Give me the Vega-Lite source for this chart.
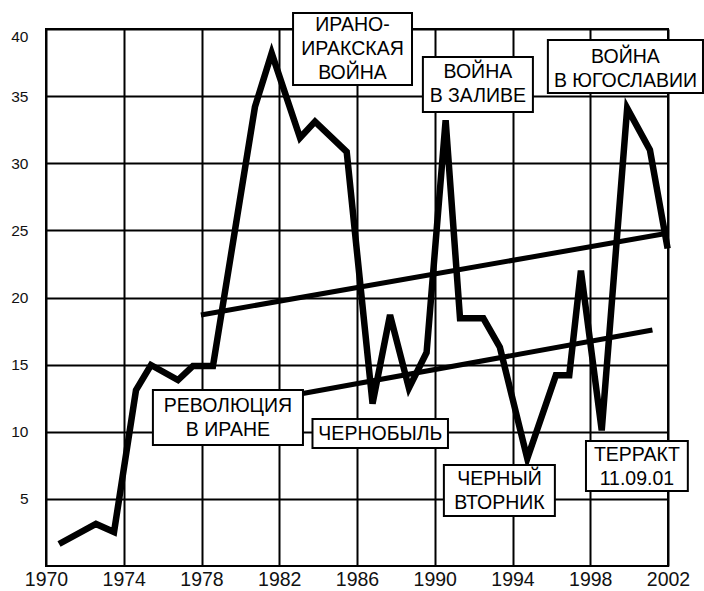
{
  "$schema": "https://vega.github.io/schema/vega-lite/v6.json",
  "width": 622,
  "height": 537,
  "autosize": "none",
  "padding": {"left": 46, "top": 29, "right": 36, "bottom": 25},
  "background": "white",
  "config": {
    "view": {"stroke": "black", "strokeWidth": 2},
    "font": "Liberation Sans",
    "axis": {
      "grid": true, "gridColor": "black", "gridWidth": 2, "gridOpacity": 1,
      "domain": false, "ticks": false, "labelColor": "#111", "title": null,
      "labelFont": "Liberation Sans"
    },
    "axisX": {"labelFontSize": 19.5, "labelPadding": 4, "labelFlush": false, "labelOverlap": false},
    "axisY": {"labelFontSize": 15.5, "labelPadding": 18, "labelFlush": true, "labelFlushOffset": 0}
  },
  "datasets": {
    "main": [
      {"year": 1970.67, "value": 1.64},
      {"year": 1972.57, "value": 3.13},
      {"year": 1973.5, "value": 2.53},
      {"year": 1974.63, "value": 13.1},
      {"year": 1975.4, "value": 14.97},
      {"year": 1976.79, "value": 13.85},
      {"year": 1977.56, "value": 14.9},
      {"year": 1978.59, "value": 14.9},
      {"year": 1980.75, "value": 34.2},
      {"year": 1981.61, "value": 38.2},
      {"year": 1983.07, "value": 31.9},
      {"year": 1983.84, "value": 33.1},
      {"year": 1985.47, "value": 30.85},
      {"year": 1986.8, "value": 12.1},
      {"year": 1987.7, "value": 18.7},
      {"year": 1988.67, "value": 13.25},
      {"year": 1989.58, "value": 15.9},
      {"year": 1990.56, "value": 33.2},
      {"year": 1991.3, "value": 18.45},
      {"year": 1992.5, "value": 18.45},
      {"year": 1993.35, "value": 16.3},
      {"year": 1994.76, "value": 8.0},
      {"year": 1996.23, "value": 14.2},
      {"year": 1996.92, "value": 14.2},
      {"year": 1997.52, "value": 22.0},
      {"year": 1998.59, "value": 10.1},
      {"year": 1999.9, "value": 34.1},
      {"year": 2001.07, "value": 31.0},
      {"year": 2001.98, "value": 23.65}
    ],
    "trend": [
      {"line": "upper", "year": 1977.97, "value": 18.7},
      {"line": "upper", "year": 2001.74, "value": 24.73},
      {"line": "lower", "year": 1982.5, "value": 12.66},
      {"line": "lower", "year": 2001.2, "value": 17.58}
    ],
    "notes": [
      {"label": "ИРАНО-\nИРАКСКАЯ\nВОЙНА", "x1": 1982.71, "x2": 1988.83, "y1": 41.19, "y2": 35.83, "xc": 1985.77, "yc": 40.3},
      {"label": "ВОЙНА\nВ ЗАЛИВЕ", "x1": 1989.39, "x2": 1995.05, "y1": 37.91, "y2": 33.82, "xc": 1992.22, "yc": 36.76},
      {"label": "ВОЙНА\nВ ЮГОСЛАВИИ", "x1": 1995.82, "x2": 2003.8, "y1": 39.18, "y2": 35.23, "xc": 1999.81, "yc": 37.95},
      {"label": "РЕВОЛЮЦИЯ\nВ ИРАНЕ", "x1": 1975.5, "x2": 1983.22, "y1": 13.11, "y2": 9.01, "xc": 1979.36, "yc": 11.9},
      {"label": "ЧЕРНОБЫЛЬ", "x1": 1983.71, "x2": 1990.68, "y1": 10.95, "y2": 8.79, "xc": 1987.2, "yc": 9.8},
      {"label": "ЧЕРНЫЙ\nВТОРНИК", "x1": 1990.47, "x2": 1996.18, "y1": 7.52, "y2": 3.72, "xc": 1993.33, "yc": 6.45},
      {"label": "ТЕРРАКТ\n11.09.01", "x1": 1997.78, "x2": 2003.02, "y1": 9.31, "y2": 5.59, "xc": 2000.4, "yc": 8.3}
    ]
  },
  "layer": [
    {
      "data": {"name": "trend"},
      "mark": {"type": "line", "color": "black", "strokeWidth": 5, "strokeCap": "butt"},
      "encoding": {
        "x": {
          "field": "year", "type": "quantitative",
          "scale": {"domain": [1970, 2002], "nice": false, "zero": false},
          "axis": {
            "values": [1970, 1974, 1978, 1982, 1986, 1990, 1994, 1998, 2002],
            "format": "d"
          }
        },
        "y": {
          "field": "value", "type": "quantitative",
          "scale": {"domain": [0, 40], "nice": false},
          "axis": {"values": [5, 10, 15, 20, 25, 30, 35, 40]}
        },
        "detail": {"field": "line"}
      }
    },
    {
      "data": {"name": "main"},
      "mark": {"type": "line", "color": "black", "strokeWidth": 6.5, "strokeCap": "butt", "strokeJoin": "miter", "strokeMiterLimit": 4},
      "encoding": {
        "x": {"field": "year", "type": "quantitative"},
        "y": {"field": "value", "type": "quantitative"}
      }
    },
    {
      "data": {"name": "notes"},
      "mark": {"type": "rect", "fill": "white", "stroke": "black", "strokeWidth": 2},
      "encoding": {
        "x": {"field": "x1", "type": "quantitative"},
        "x2": {"field": "x2"},
        "y": {"field": "y1", "type": "quantitative"},
        "y2": {"field": "y2"}
      }
    },
    {
      "data": {"name": "notes"},
      "mark": {"type": "text", "fontSize": 19.5, "lineBreak": "\n", "lineHeight": 24, "align": "center", "baseline": "middle", "color": "black"},
      "encoding": {
        "x": {"field": "xc", "type": "quantitative"},
        "y": {"field": "yc", "type": "quantitative"},
        "text": {"field": "label"}
      }
    }
  ]
}
